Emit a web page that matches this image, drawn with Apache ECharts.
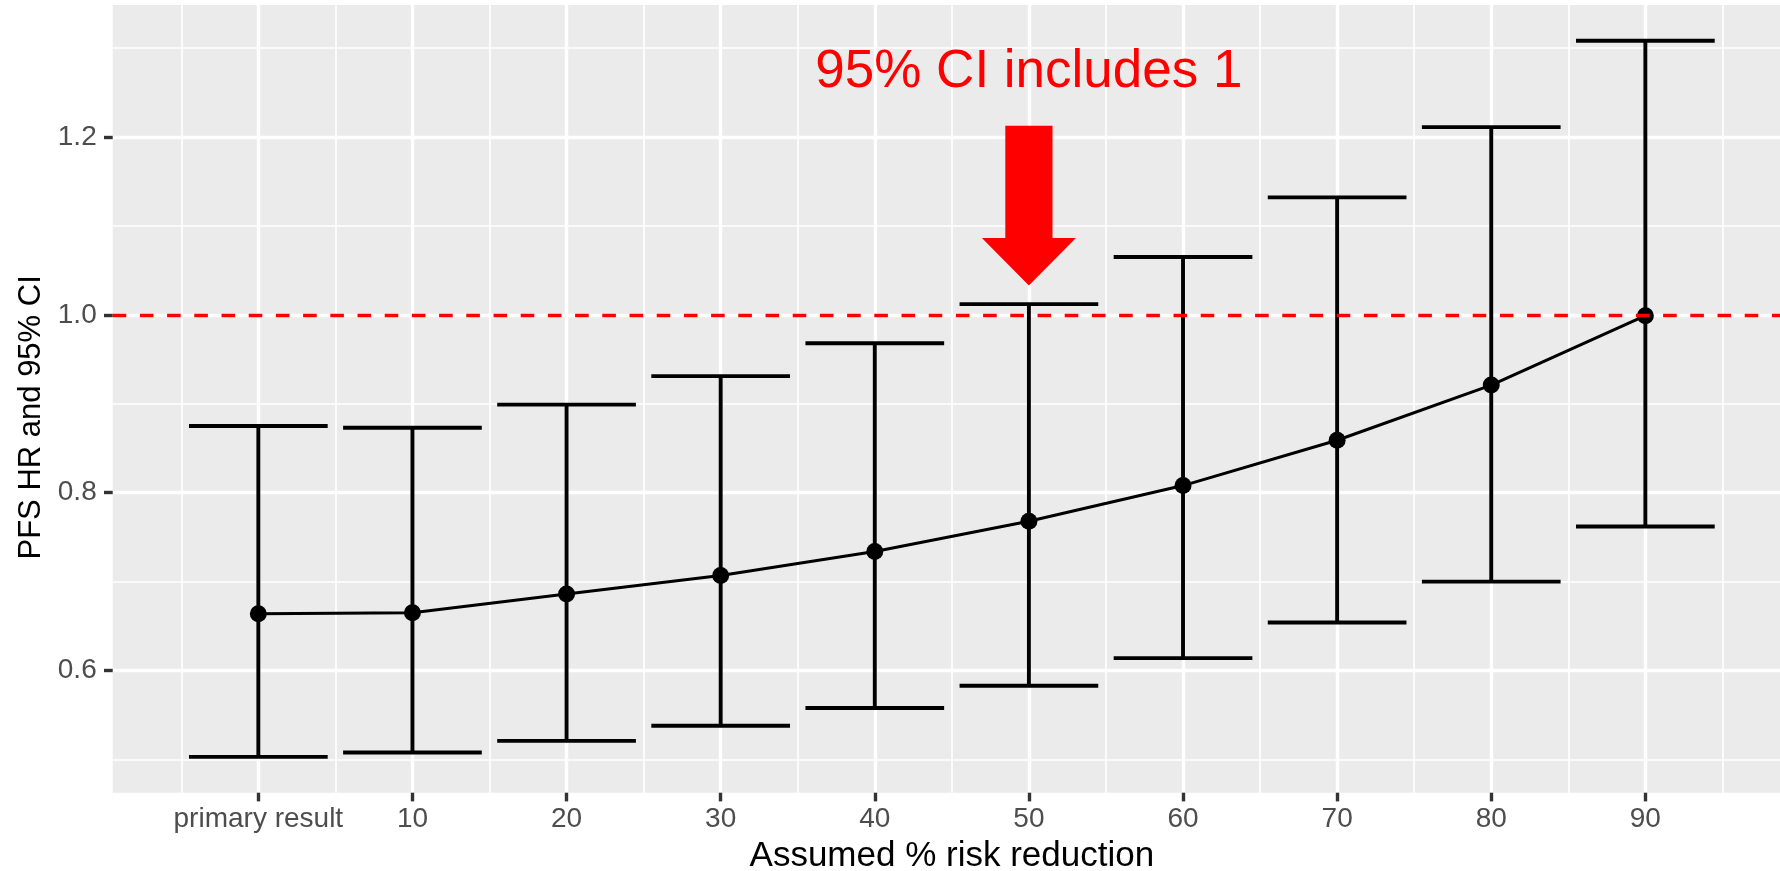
<!DOCTYPE html>
<html>
<head>
<meta charset="utf-8">
<script src="https://cdn.jsdelivr.net/npm/echarts@6/dist/echarts.min.js"></script>
<style>
  html, body { margin: 0; padding: 0; background: #ffffff; }
  #chart { width: 1780px; height: 871px; }
</style>
</head>
<body>
<div id="chart"></div>
<script>
// ---- data ----
const xLabels = ["primary result", "10", "20", "30", "40", "50", "60", "70", "80", "90"];
const xValues = [0, 10, 20, 30, 40, 50, 60, 70, 80, 90];
const hr    = [0.664, 0.665, 0.686, 0.707, 0.734, 0.768, 0.808, 0.859, 0.921, 0.999];
const lower = [0.503, 0.508, 0.521, 0.538, 0.558, 0.583, 0.614, 0.654, 0.700, 0.762];
const upper = [0.875, 0.873, 0.899, 0.931, 0.968, 1.012, 1.065, 1.132, 1.211, 1.308];
const yTicks = [0.6, 0.8, 1.0, 1.2];
const yMinorTicks = [0.5, 0.7, 0.9, 1.1, 1.3];
const xMinorTicks = [-5, 5, 15, 25, 35, 45, 55, 65, 75, 85, 95];
const refValue = 1;
const noteText = "95% CI includes 1";
const noteX = 50;
const noteY = 1.272;
const arrowX = 50;
const arrowFrom = 1.2125;
const arrowTo = 1.033;

// ---- derived ranges (ggplot-like expansion) ----
const errHalf = 4.5; // errorbar half width in x units
const xLo = Math.min(...xValues) - errHalf, xHi = Math.max(...xValues) + errHalf;
const xPad = (xHi - xLo) * 0.05;
const yLo = Math.min(...lower), yHi = Math.max(...upper);
const yPad = (yHi - yLo) * 0.05;

const FONT = "'Liberation Sans', Arial, Helvetica, sans-serif";
const chart = echarts.init(document.getElementById('chart'), null, { renderer: 'canvas' });

const errData = xValues.map((x, i) => [x, lower[i], upper[i]]);
const lineData = xValues.map((x, i) => [x, hr[i]]);

const option = {
  backgroundColor: '#ffffff',
  animation: false,
  grid: {
    left: 112.7, right: -11, top: 5, bottom: 78.3,
    outerBoundsMode: 'none', containLabel: false,
    show: true, backgroundColor: '#EBEBEB', borderWidth: 0
  },
  xAxis: [
    {
      type: 'value', min: xLo - xPad, max: xHi + xPad, position: 'bottom',
      axisLine: { show: false, onZero: false },
      axisTick: { show: true, customValues: xValues, length: 8.7, lineStyle: { color: '#333333', width: 3.4 } },
      axisLabel: {
        customValues: xValues, margin: 13, color: '#4D4D4D', fontSize: 28, fontFamily: FONT,
        formatter: v => xLabels[xValues.indexOf(Math.round(v))]
      },
      splitLine: { show: true, lineStyle: { color: '#ffffff', width: 3.4 } },
      name: 'Assumed % risk reduction', nameLocation: 'middle', nameGap: 40,
      nameTextStyle: { color: '#000000', fontSize: 35, fontFamily: FONT }
    },
    {
      type: 'value', min: xLo - xPad, max: xHi + xPad, position: 'top',
      axisLine: { show: false, onZero: false },
      axisTick: { show: false, customValues: xMinorTicks },
      axisLabel: { show: false },
      splitLine: { show: true, lineStyle: { color: '#ffffff', width: 1.7 } }
    }
  ],
  yAxis: [
    {
      type: 'value', min: yLo - yPad, max: yHi + yPad, position: 'left',
      axisLine: { show: false, onZero: false },
      axisTick: { show: true, customValues: yTicks, length: 8.7, lineStyle: { color: '#333333', width: 3.4 } },
      axisLabel: {
        customValues: yTicks, margin: 16, color: '#4D4D4D', fontSize: 28, fontFamily: FONT,
        formatter: v => v.toFixed(1)
      },
      splitLine: { show: true, lineStyle: { color: '#ffffff', width: 3.4 } },
      name: 'PFS HR and 95% CI', nameLocation: 'middle', nameGap: 58,
      nameTextStyle: { color: '#000000', fontSize: 31, fontFamily: FONT, padding: [0, 37, 0, 0] }
    },
    {
      type: 'value', min: yLo - yPad, max: yHi + yPad, position: 'right',
      axisLine: { show: false, onZero: false },
      axisTick: { show: false, customValues: yMinorTicks },
      axisLabel: { show: false },
      splitLine: { show: true, lineStyle: { color: '#ffffff', width: 1.7 } }
    }
  ],
  series: [
    {
      type: 'custom', name: 'ci', z: 2, xAxisIndex: 0, yAxisIndex: 0,
      data: errData,
      renderItem: function (params, api) {
        const x = api.value(0), lo = api.value(1), hi = api.value(2);
        const pLo = api.coord([x, lo]), pHi = api.coord([x, hi]);
        const cL1 = api.coord([x - errHalf, lo]), cR1 = api.coord([x + errHalf, lo]);
        const cL2 = api.coord([x - errHalf, hi]), cR2 = api.coord([x + errHalf, hi]);
        const st = { stroke: '#000000', lineWidth: 3.9, lineCap: 'butt' };
        return {
          type: 'group',
          children: [
            { type: 'line', shape: { x1: pLo[0], y1: pLo[1], x2: pHi[0], y2: pHi[1] }, style: st },
            { type: 'line', shape: { x1: cL1[0], y1: cL1[1], x2: cR1[0], y2: cR1[1] }, style: st },
            { type: 'line', shape: { x1: cL2[0], y1: cL2[1], x2: cR2[0], y2: cR2[1] }, style: st }
          ]
        };
      }
    },
    {
      type: 'line', name: 'ref', z: 3, data: [], xAxisIndex: 0, yAxisIndex: 0,
      markLine: {
        silent: true, symbol: ['none', 'none'], label: { show: false }, animation: false,
        lineStyle: { color: '#FF0000', width: 3.4, type: [13.6, 13.6] },
        data: [{ yAxis: refValue }]
      }
    },
    {
      type: 'line', name: 'HR', z: 4, xAxisIndex: 0, yAxisIndex: 0,
      data: lineData,
      symbol: 'circle', symbolSize: 17, showSymbol: true,
      lineStyle: { color: '#000000', width: 3 },
      itemStyle: { color: '#000000' }
    },
    {
      type: 'custom', name: 'arrow', z: 5, xAxisIndex: 0, yAxisIndex: 0,
      data: [[arrowX, arrowFrom, arrowTo]],
      renderItem: function (params, api) {
        const x = api.value(0);
        const pTop = api.coord([x, api.value(1)]);
        const pTip = api.coord([x, api.value(2)]);
        const shaftHalf = 23.6, headHalf = 47, headLen = 47.4;
        const cx = pTop[0], yb = pTip[1] - headLen;
        return {
          type: 'polygon',
          shape: {
            points: [
              [cx - shaftHalf, pTop[1]], [cx + shaftHalf, pTop[1]],
              [cx + shaftHalf, yb], [cx + headHalf, yb],
              [cx, pTip[1]],
              [cx - headHalf, yb], [cx - shaftHalf, yb]
            ]
          },
          style: { fill: '#FF0000' }
        };
      }
    },
    {
      type: 'custom', name: 'note', z: 6, xAxisIndex: 0, yAxisIndex: 0,
      data: [[noteX, noteY]],
      renderItem: function (params, api) {
        const p = api.coord([api.value(0), api.value(1)]);
        return {
          type: 'text',
          x: p[0], y: p[1],
          style: {
            text: noteText, fill: '#FF0000', fontSize: 53, fontFamily: FONT,
            align: 'center', verticalAlign: 'middle'
          }
        };
      }
    }
  ]
};
chart.setOption(option);
</script>
</body>
</html>
